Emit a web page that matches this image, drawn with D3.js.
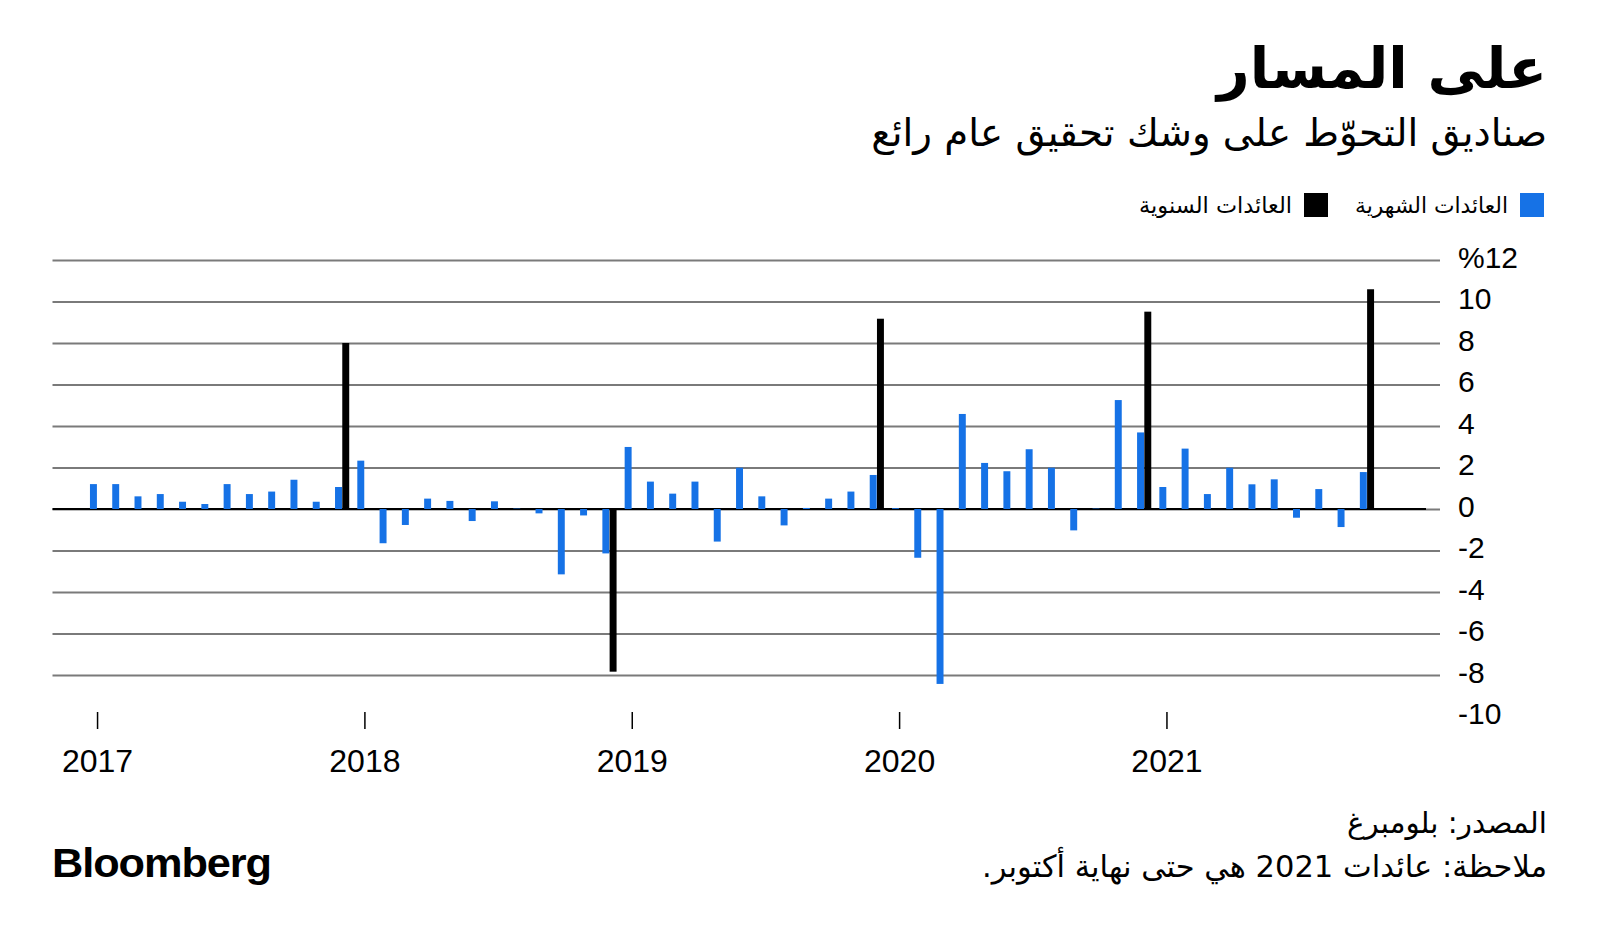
<!DOCTYPE html>
<html>
<head>
<meta charset="utf-8">
<script src="https://cdn.jsdelivr.net/npm/d3@7"></script>
<style>
  html, body { margin: 0; padding: 0; background: #fff; }
  svg { display: block; }
  .ar { font-family: "DejaVu Sans", "Noto Sans", sans-serif; }
  .num { font-family: "Liberation Sans", Arial, sans-serif; }
</style>
</head>
<body>
<svg id="chart" width="1600" height="946"></svg>
<script>
// ---- data ----
const years = ["2017", "2018", "2019", "2020", "2021"];
const monthly2017 = [1.2, 1.2, 0.61, 0.72, 0.35, 0.24, 1.2, 0.72, 0.84, 1.41, 0.35, 1.06];
const monthly2018 = [2.33, -1.65, -0.77, 0.5, 0.39, -0.58, 0.37, 0.02, -0.21, -3.15, -0.31, -2.14];
const monthly2019 = [2.99, 1.32, 0.74, 1.32, -1.57, 1.99, 0.61, -0.79, 0.05, 0.5, 0.84, 1.64];
const monthly2020 = [0.04, -2.35, -8.43, 4.58, 2.22, 1.82, 2.88, 1.99, -1.03, 0.02, 5.25, 3.69];
const monthly2021 = [1.06, 2.91, 0.72, 1.99, 1.19, 1.43, -0.42, 0.96, -0.87, 1.78];
const annualReturns = [8.0, -7.84, 9.17, 9.51, 10.59];
const annualMonth = [11, 11, 11, 11, 9]; // month (0-based) of the year where the annual bar sits
const yTicks = [12, 10, 8, 6, 4, 2, 0, -2, -4, -6, -8, -10];

const title = "على المسار";
const subtitle = "صناديق التحوّط على وشك تحقيق عام رائع";
const legendMonthly = "العائدات الشهرية";
const legendAnnual = "العائدات السنوية";
const sourceText = "المصدر: بلومبرغ";
const noteText = "ملاحظة: عائدات 2021 هي حتى نهاية أكتوبر.";

// ---- build rows ----
const monthlyByYear = [monthly2017, monthly2018, monthly2019, monthly2020, monthly2021];
const monthly = [];
monthlyByYear.forEach((arr, yi) => arr.forEach((v, m) => monthly.push({ idx: yi * 12 + m, value: v })));
const annual = annualReturns.map((v, yi) => ({ idx: yi * 12 + annualMonth[yi], value: v }));

// ---- scales ----
const svg = d3.select("#chart");
const x = d3.scaleLinear().domain([-2, 59.65]).range([52.5, 1426]);
const y = d3.scaleLinear().domain([-10, 12]).range([716.5, 260]);
const sub = d3.scaleBand().domain(["m", "a"]).range([-7.1, 7.1]).paddingInner(0.04);

const blue = "#1672e6";

// fit an Arabic text's font size so that its width matches the reference width
function arText(str, xr, yb, size, width, bold) {
  const t = svg.append("text").attr("class", "ar")
    .attr("x", xr).attr("y", yb)
    .attr("direction", "rtl").attr("text-anchor", "start")
    .style("font-size", size + "px")
    .style("font-weight", bold ? "bold" : "normal")
    .text(str);
  const w = t.node().getComputedTextLength();
  if (w > 0 && width) t.style("font-size", (size * width / w).toFixed(2) + "px");
  return t;
}

// ---- title ----
arText(title, 1547, 88, 60, 330, true);
arText(subtitle, 1547, 146, 38, 676, false);

// ---- legend ----
const legend = [
  { label: legendMonthly, color: blue, sx: 1520, tx: 1508 },
  { label: legendAnnual, color: "#000", sx: 1304, tx: 1292 }
];
legend.forEach(l => {
  svg.append("rect").attr("x", l.sx).attr("y", 193).attr("width", 24).attr("height", 24).attr("fill", l.color);
  arText(l.label, l.tx, 213, 22, 153, false);
});

// ---- y axis / gridlines ----
const yAxis = d3.axisRight(y)
  .tickValues(yTicks)
  .tickSize(-(1440 - 52.5))
  .tickPadding(18)
  .tickFormat(d => d === 12 ? "%12" : String(d));
const gy = svg.append("g").attr("transform", "translate(1440,0)").call(yAxis);
gy.select(".domain").remove();
gy.selectAll(".tick line").attr("stroke", "#7a7a7a").attr("stroke-width", 1.8)
  .attr("opacity", d => d === -10 ? 0 : 1);
gy.selectAll(".tick text").attr("class", "num").attr("dy", "0.24em")
  .style("font-size", "30px").attr("fill", "#000");

// zero line
svg.append("line")
  .attr("x1", 52.5).attr("x2", 1426)
  .attr("y1", y(0)).attr("y2", y(0))
  .attr("stroke", "#000").attr("stroke-width", 2.2);

// ---- bars ----
svg.append("g").selectAll("rect").data(monthly).join("rect")
  .attr("x", d => x(d.idx) + sub("m"))
  .attr("width", sub.bandwidth())
  .attr("y", d => y(Math.max(0, d.value)))
  .attr("height", d => Math.abs(y(d.value) - y(0)))
  .attr("fill", blue);

svg.append("g").selectAll("rect").data(annual).join("rect")
  .attr("x", d => x(d.idx) + sub("a"))
  .attr("width", sub.bandwidth())
  .attr("y", d => y(Math.max(0, d.value)))
  .attr("height", d => Math.abs(y(d.value) - y(0)))
  .attr("fill", "#000");

// ---- x axis ----
const xAxis = d3.axisBottom(x)
  .tickValues(years.map((_, i) => i * 12))
  .tickSize(17)
  .tickPadding(20)
  .tickFormat(i => years[i / 12]);
const gx = svg.append("g").attr("transform", "translate(0,712)").call(xAxis);
gx.select(".domain").remove();
gx.selectAll(".tick line").attr("stroke", "#000").attr("stroke-width", 1.5);
gx.selectAll(".tick text").attr("class", "num")
  .style("font-size", "32px").attr("fill", "#000");

// ---- footer ----
arText(sourceText, 1547, 833, 29, 200, false);
arText(noteText, 1547, 877, 29, 565, false);

svg.append("text").attr("class", "num")
  .attr("x", 52).attr("y", 877)
  .attr("textLength", 219).attr("lengthAdjust", "spacingAndGlyphs")
  .style("font-size", "40px").style("font-weight", "bold").style("letter-spacing", "-1px")
  .text("Bloomberg");
</script>
</body>
</html>
